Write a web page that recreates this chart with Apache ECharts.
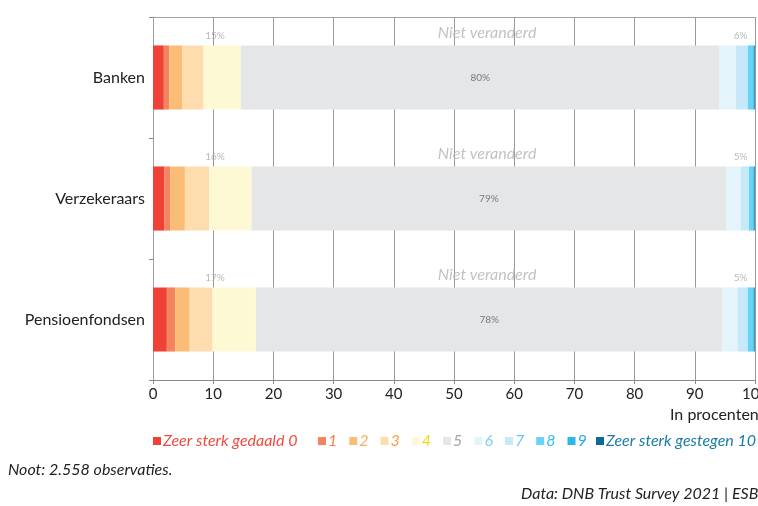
<!DOCTYPE html>
<html><head><meta charset="utf-8">
<script src="https://cdn.jsdelivr.net/npm/echarts@6/dist/echarts.min.js"></script>
<style>html,body{margin:0;padding:0;background:#fff}#c{width:758px;height:506px}</style>
</head><body><div id="c"></div>
<script>
const categories = ['Banken', 'Verzekeraars', 'Pensioenfondsen'];
const scoreNames = ['Zeer sterk gedaald 0', '1', '2', '3', '4', '5', '6', '7', '8', '9', 'Zeer sterk gestegen 10'];
// shares per score 0..10 (percent)
const banken = [1.8, 0.9, 2.2, 3.5, 6.2, 79.5, 2.7, 2.0, 0.9, 0.2, 0.1];
const verzekeraars = [1.9, 1.0, 2.4, 4.0, 7.1, 78.8, 2.4, 1.4, 0.7, 0.2, 0.1];
const pensioenfondsen = [2.3, 1.4, 2.4, 3.8, 7.2, 77.5, 2.5, 1.7, 0.9, 0.2, 0.1];
// labels printed in the chart
const lowTotals = ['15%', '16%', '17%'];
const midLabels = ['80%', '79%', '78%'];
const highTotals = ['6%', '5%', '5%'];
const xTicks = [0, 10, 20, 30, 40, 50, 60, 70, 80, 90, 100];

const barColors = ['#ef4136', '#f4845f', '#fbbd76', '#fddcad', '#fef9d5', '#e5e6e8', '#e4f4fb', '#c6e8f8', '#66d4f6', '#2bb6ec', '#0c6a97'];
const textColors = ['#ef4b3f', '#f37e4f', '#f9ab5c', '#f5a33f', '#f2d91a', '#a5a5a5', '#7fd0f0', '#6ac6ee', '#38bff0', '#1fb0e8', '#1c7aa6'];
const rows = [banken, verzekeraars, pensioenfondsen];
const FONT = 'Lato, "Open Sans", sans-serif';

const series = scoreNames.map((name, k) => ({
  name: name,
  type: 'bar',
  stack: 'total',
  barWidth: '53%',
  itemStyle: { color: barColors[k] },
  emphasis: { disabled: true },
  silent: true,
  label: k === 5 ? {
    show: true, position: 'inside', color: '#7a7a7a', fontSize: 10, fontFamily: FONT,
    formatter: p => midLabels[p.dataIndex]
  } : { show: false },
  data: rows.map(r => r[k])
}));

const lowX = 10.3, highX = 97.6, midX = 55.5;
series.push({
  type: 'scatter', symbolSize: 0, silent: true,
  data: categories.map((c, i) => [lowX, i]),
  label: { show: true, position: 'inside', offset: [0, -42], color: '#a8a8a8', fontSize: 10, fontFamily: FONT,
    formatter: p => lowTotals[p.dataIndex] }
});
series.push({
  type: 'scatter', symbolSize: 0, silent: true,
  data: categories.map((c, i) => [highX, i]),
  label: { show: true, position: 'inside', offset: [0, -42], color: '#a8a8a8', fontSize: 10, fontFamily: FONT,
    formatter: p => highTotals[p.dataIndex] }
});
series.push({
  type: 'scatter', symbolSize: 0, silent: true,
  data: categories.map((c, i) => [midX, i]),
  label: { show: true, position: 'inside', offset: [0, -45], color: '#b3b3b3', fontSize: 16, fontStyle: 'italic', fontFamily: FONT,
    formatter: 'Niet veranderd' }
});

const legendItem = (n, k) => ({ name: n, itemStyle: { color: barColors[k] }, textStyle: { color: textColors[k] } });
const legendBase = {
  top: 433, padding: 0, itemWidth: 8, itemHeight: 8, itemGap: 12, icon: 'rect',
  selectedMode: false, orient: 'horizontal',
  textStyle: { fontSize: 16, fontStyle: 'italic', fontFamily: FONT, padding: [0, 0, 0, -3] }
};

const chart = echarts.init(document.getElementById('c'), null, { renderer: 'canvas' });
chart.setOption({
  animation: false,
  grid: { left: 153, right: 3, top: 17, bottom: 126, containLabel: false, outerBoundsMode: 'none' },
  legend: [
    Object.assign({}, legendBase, { left: 153, data: [legendItem(scoreNames[0], 0)] }),
    Object.assign({}, legendBase, { left: 318, data: scoreNames.slice(1, 10).map((n, i) => legendItem(n, i + 1)) }),
    Object.assign({}, legendBase, { left: 596, data: [legendItem(scoreNames[10], 10)] })
  ],
  xAxis: [{
    type: 'value', min: 0, max: 100, interval: 10,
    axisLine: { show: true, lineStyle: { color: '#8a8a8a' } },
    axisTick: { show: true, length: 4, lineStyle: { color: '#8a8a8a' } },
    splitLine: { show: true, lineStyle: { color: '#999', width: 1 } },
    axisLabel: { color: '#222', fontSize: 15, fontFamily: FONT, margin: 7,
      formatter: v => xTicks.includes(v) ? String(v) : '' }
  }, {
    type: 'value', min: 0, max: 100, position: 'top',
    axisLine: { show: true, lineStyle: { color: '#a0a0a0' } },
    axisTick: { show: false }, axisLabel: { show: false }, splitLine: { show: false }
  }],
  yAxis: {
    type: 'category', data: categories, inverse: true,
    axisLine: { show: true, lineStyle: { color: '#a0a0a0' } },
    axisTick: { show: true, length: 4, lineStyle: { color: '#8a8a8a' } },
    axisLabel: { color: '#222', fontSize: 16, fontFamily: FONT, margin: 8 },
    splitLine: { show: false }
  },
  graphic: [
    { type: 'text', left: 670, top: 407, style: { text: 'In procenten', fontSize: 16, fontFamily: FONT, fill: '#222' } },
    { type: 'text', left: 8, top: 462, style: { text: 'Noot: 2.558 observaties.', fontSize: 16, fontStyle: 'italic', fontFamily: FONT, fill: '#222' } },
    { type: 'text', left: 521, top: 486, style: { text: 'Data: DNB Trust Survey 2021 | ESB', fontSize: 16, fontStyle: 'italic', fontFamily: FONT, fill: '#222' } }
  ],
  series: series
});
</script></body></html>
